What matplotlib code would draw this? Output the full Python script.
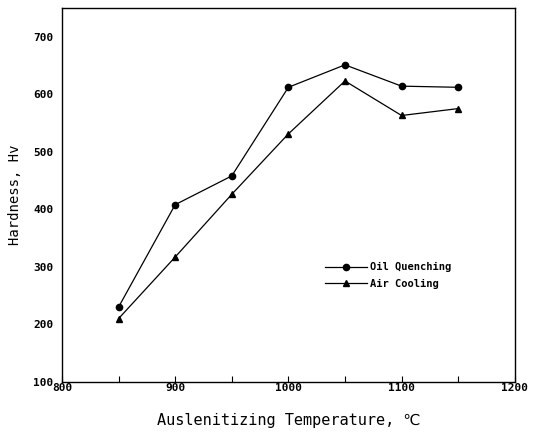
import matplotlib.pyplot as plt
import numpy as np

# data
temps = [850, 900, 950, 1000, 1050, 1100, 1150]
oil_quenching = [230, 408, 458, 612, 651, 614, 612]
air_cooling = [210, 317, 426, 531, 623, 563, 575]
x_ticks = [800, 900, 1000, 1100, 1200]
y_ticks = [100, 200, 300, 400, 500, 600, 700]

plt.rcParams['font.family'] = ['DejaVu Sans Mono', 'DejaVu Sans']

fig = plt.figure(figsize=(5.34, 4.38), dpi=100)
ax = fig.add_axes([0.116, 0.128, 0.848, 0.854])

ax.plot(temps, oil_quenching, color='black', linewidth=0.9, marker='o', markersize=4.5,
        label='Oil Quenching')
ax.plot(temps, air_cooling, color='black', linewidth=0.9, marker='^', markersize=4.5,
        label='Air Cooling')

ax.set_xlim(800, 1200)
ax.set_ylim(100, 750)
ax.set_xticks(x_ticks)
ax.set_xticks([850, 950, 1050, 1150], minor=True)
ax.set_yticks(y_ticks)
ax.tick_params(axis='x', which='both', direction='in', length=4, width=0.8, labelsize=8, pad=1)
ax.tick_params(axis='y', length=0, labelsize=8, pad=6)
for lbl in ax.get_xticklabels() + ax.get_yticklabels():
    lbl.set_fontweight('bold')

for s in ax.spines.values():
    s.set_linewidth(1.0)

ax.set_xlabel('Auslenitizing Temperature, ℃', fontsize=11, labelpad=14)
ax.set_ylabel('Hardness, Hv', fontsize=10, labelpad=8)

ax.legend(loc='upper left', bbox_to_anchor=(0.56, 0.345), frameon=False,
          prop={'size': 7.5, 'weight': 'bold'},
          handlelength=4, handletextpad=0.3, labelspacing=0.6)

plt.savefig('out.png', dpi=100)
